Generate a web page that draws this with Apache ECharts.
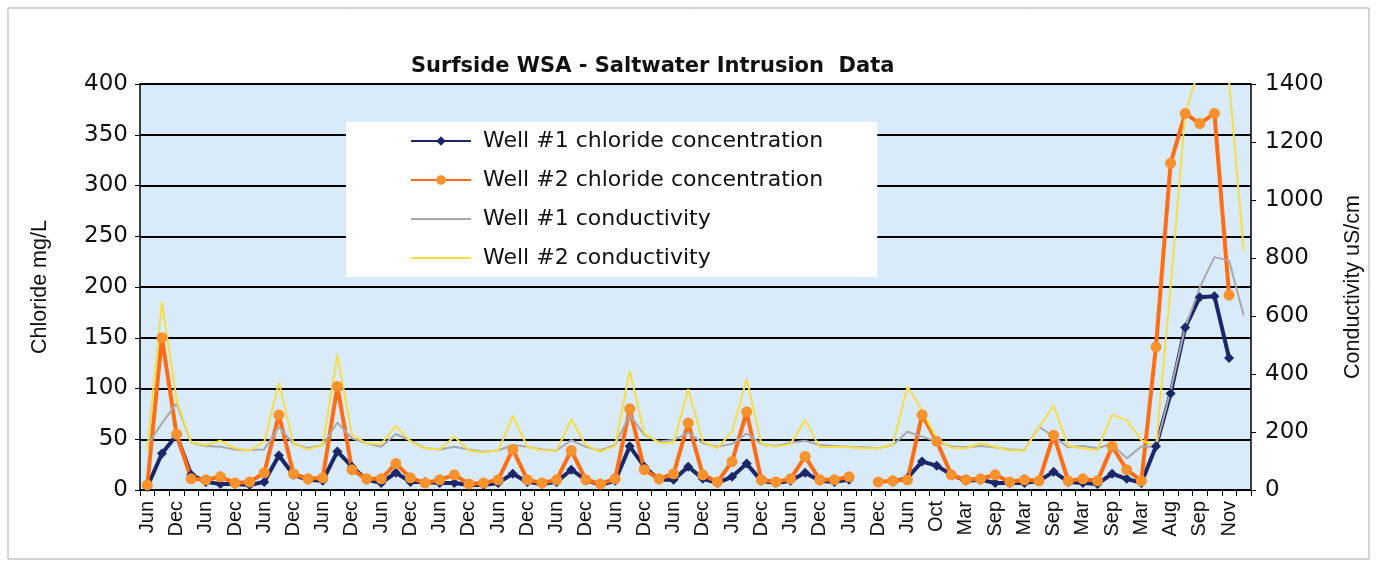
<!DOCTYPE html>
<html>
<head>
<meta charset="utf-8">
<title>Surfside WSA - Saltwater Intrusion Data</title>
<script src="https://cdn.jsdelivr.net/npm/echarts@6/dist/echarts.min.js"></script>
<style>
	html, body {margin:0; padding:0; background:#fff;}
	#chart {width:1377px; height:567px;}
</style>
</head>
<body>
<div id="chart"></div>
<script>
	// sample dates (only every second one is labelled on the axis)
	var months = [
		'Jun','Sep','Dec','Mar','Jun','Sep','Dec','Mar','Jun','Sep',
		'Dec','Mar','Jun','Sep','Dec','Mar','Jun','Sep','Dec','Mar',
		'Jun','Sep','Dec','Mar','Jun','Sep','Dec','Mar','Jun','Sep',
		'Dec','Mar','Jun','Sep','Dec','Mar','Jun','Sep','Dec','Mar',
		'Jun','Sep','Dec','Mar','Jun','Sep','Dec','Mar','Jun','Sep',
		'Dec','Mar','Jun','Aug','Oct','Dec','Mar','Jun','Sep','Dec',
		'Mar','Jun','Sep','Dec','Mar','Jun','Sep','Dec','Mar','Jun',
		'Aug','Aug','Sep','Oct','Nov','Dec'
	];

	// chloride, mg/L (left axis)
	var well1Chloride = [
		3, 36, 54, 15, 8, 6, 6, 5, 8, 34,
		15, 10, 9, 38, 23, 10, 7, 17, 8, 8,
		7, 7, 5, 5, 7, 16, 8, 6, 8, 20,
		10, 5, 9, 43, 23, 10, 10, 23, 11, 7,
		13, 26, 9, 7, 9, 17, 9, 8, 10, null,
		null, 8, 12, 28, 24, 15, 9, 10, 7, 7,
		7, 9, 18, 8, 7, 6, 16, 11, 7, 43,
		95, 160, 190, 191, 130, null
	];
	var well2Chloride = [
		5, 150, 55, 11, 10, 13, 7, 8, 17, 74,
		16, 11, 12, 102, 20, 11, 11, 26, 12, 7,
		10, 15, 6, 7, 10, 40, 10, 7, 10, 39,
		10, 6, 11, 80, 20, 11, 16, 66, 15, 8,
		28, 77, 10, 8, 11, 33, 10, 10, 13, null,
		8, 9, 10, 74, 48, 15, 10, 11, 15, 8,
		10, 9, 54, 9, 11, 9, 43, 20, 9, 141,
		322, 371, 361, 371, 192, null
	];

	// conductivity, uS/cm (right axis)
	var well1Conductivity = [
		155, 230, 299, 163, 152, 149, 140, 138, 140, 218,
		159, 144, 155, 232, 178, 161, 149, 193, 170, 144,
		140, 149, 140, 132, 136, 155, 149, 140, 136, 172,
		149, 136, 155, 259, 190, 167, 172, 198, 161, 149,
		159, 195, 159, 152, 163, 170, 155, 152, 149, 147,
		144, 155, 201, 184, 167, 150, 147, 152, 147, 140,
		138, 218, 184, 147, 152, 144, 159, 109, 150, 148,
		343, 561, 699, 803, 791, 602
	];
	var well2Conductivity = [
		138, 649, 310, 163, 155, 170, 144, 136, 167, 370,
		159, 140, 155, 466, 190, 161, 159, 221, 167, 144,
		140, 184, 136, 129, 136, 255, 149, 136, 136, 244,
		155, 132, 152, 411, 195, 163, 161, 347, 167, 144,
		201, 382, 159, 149, 159, 241, 147, 149, 147, 144,
		144, 155, 356, 276, 175, 146, 144, 161, 149, 136,
		136, 218, 290, 152, 144, 138, 259, 241, 172, 150,
		700, 1300, 1460, 1500, 1410, 826
	];

	var chlorideTicks = {min: 0, max: 400, step: 50};
	var conductivityTicks = {min: 0, max: 1400, step: 200};

	// the scanned original is stretched sideways, so the wider DejaVu face
	// is used for upright text and Arial for the rotated text
	var WIDE = '"DejaVu Sans", Verdana, sans-serif';
	var ARIAL = 'Arial, "Liberation Sans", sans-serif';

	var myChart = echarts.init(document.getElementById('chart'), null, {renderer: 'canvas'});
	var option = {
		backgroundColor: '#fff',
		animation: false,
		textStyle: {fontFamily: WIDE, color: '#111'},
		title: {
			text: 'Surfside WSA - Saltwater Intrusion  Data',
			left: 406,
			top: 51,
			textStyle: {fontSize: 21, fontWeight: 'bold', color: '#111', fontFamily: WIDE}
		},
		graphic: [{
			type: 'rect',
			shape: {x: 8, y: 8, width: 1361, height: 551},
			style: {fill: null, stroke: '#a8a8a8', lineWidth: 1},
			silent: true
		}],
		legend: {
			orient: 'vertical',
			left: 346,
			top: 122,
			backgroundColor: '#fff',
			padding: [8, 54, 8, 64],
			itemWidth: 60,
			itemHeight: 12,
			itemGap: 17,
			textStyle: {fontSize: 22, color: '#111', fontFamily: WIDE, padding: [0, 0, 0, 7]},
			data: [
				{name: 'Well #1 chloride concentration'},
				{name: 'Well #2 chloride concentration'},
				{name: 'Well #1 conductivity', itemStyle: {opacity: 0}},
				{name: 'Well #2 conductivity', itemStyle: {opacity: 0}}
			]
		},
		grid: {
			left: 140,
			right: 126,
			top: 84,
			bottom: 77,
			show: true,
			backgroundColor: '#d9eaf9',
			borderWidth: 0
		},
		xAxis: {
			type: 'category',
			data: months,
			boundaryGap: true,
			axisLine: {lineStyle: {color: '#000', width: 1.5}},
			axisTick: {show: true, interval: 0, length: 6, lineStyle: {color: '#000'}},
			axisLabel: {interval: 1, rotate: 90, fontSize: 20, color: '#111', margin: 11, fontFamily: ARIAL}
		},
		yAxis: [
			{
				type: 'value',
				name: 'Chloride mg/L',
				nameLocation: 'middle',
				nameRotate: 90,
				nameGap: 89,
				nameTextStyle: {fontSize: 21.5, color: '#111', fontFamily: ARIAL},
				min: chlorideTicks.min,
				max: chlorideTicks.max,
				interval: chlorideTicks.step,
				axisLine: {show: true, lineStyle: {color: '#000', width: 1.5}},
				axisTick: {show: true, length: 5, lineStyle: {color: '#000'}},
				axisLabel: {fontSize: 23, color: '#111', margin: 12, fontFamily: WIDE},
				splitLine: {show: true, lineStyle: {color: '#000', width: 2}}
			},
			{
				type: 'value',
				name: 'Conductivity uS/cm',
				nameLocation: 'middle',
				nameRotate: 90,
				nameGap: 91,
				nameTextStyle: {fontSize: 21.5, color: '#111', fontFamily: ARIAL},
				min: conductivityTicks.min,
				max: conductivityTicks.max,
				interval: conductivityTicks.step,
				axisLine: {show: true, lineStyle: {color: '#000', width: 1.5}},
				axisTick: {show: true, length: 5, lineStyle: {color: '#000'}},
				axisLabel: {
					fontSize: 23, color: '#111', margin: 14, fontFamily: WIDE,
					formatter: function (v) { return String(v); }
				},
				splitLine: {show: false}
			}
		],
		series: [
			{
				name: 'Well #1 chloride concentration',
				type: 'line',
				yAxisIndex: 0,
				data: well1Chloride,
				symbol: 'diamond',
				symbolSize: 10,
				showAllSymbol: true,
				connectNulls: false,
				lineStyle: {color: '#1b2769', width: 4},
				itemStyle: {color: '#1b2769'}
			},
			{
				name: 'Well #2 chloride concentration',
				type: 'line',
				yAxisIndex: 0,
				data: well2Chloride,
				symbol: 'circle',
				symbolSize: 11,
				showAllSymbol: true,
				connectNulls: false,
				lineStyle: {color: '#ff6d12', width: 4},
				itemStyle: {color: '#f7922c'}
			},
			{
				name: 'Well #1 conductivity',
				type: 'line',
				yAxisIndex: 1,
				data: well1Conductivity,
				symbol: 'none',
				clip: true,
				lineStyle: {color: '#a9a9ab', width: 2},
				itemStyle: {color: '#a9a9ab'}
			},
			{
				name: 'Well #2 conductivity',
				type: 'line',
				yAxisIndex: 1,
				data: well2Conductivity,
				symbol: 'none',
				clip: true,
				lineStyle: {color: '#f8de45', width: 2},
				itemStyle: {color: '#f8de45'}
			}
		]
	};
	myChart.setOption(option);
</script>
</body>
</html>
